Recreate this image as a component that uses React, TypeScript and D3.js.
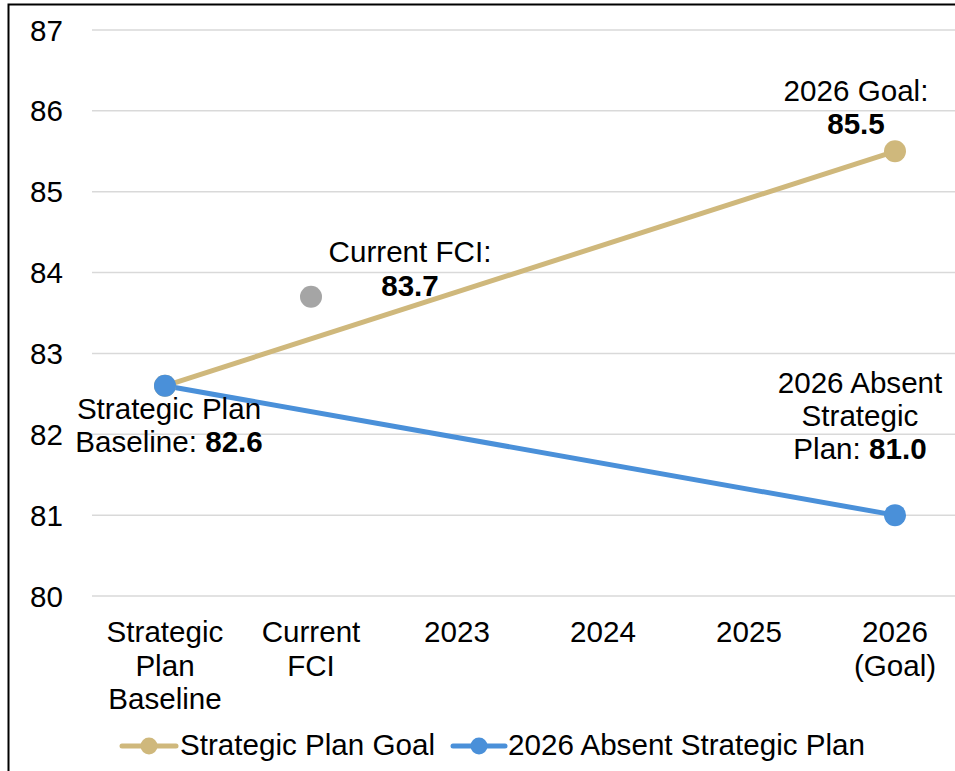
import React from "react";
import * as d3 from "d3";

const categories = ["Strategic Plan Baseline", "Current FCI", "2023", "2024", "2025", "2026 (Goal)"];
const categoryLines = [["Strategic", "Plan", "Baseline"], ["Current", "FCI"], ["2023"], ["2024"], ["2025"], ["2026", "(Goal)"]];
const goalValues: (number | null)[] = [82.6, null, null, null, null, 85.5];
const absentValues: (number | null)[] = [82.6, null, null, null, null, 81.0];
const currentFci: (number | null)[] = [null, 83.7, null, null, null, null];
const yTicks = [80, 81, 82, 83, 84, 85, 86, 87];
const seriesNames = ["Strategic Plan Goal", "2026 Absent Strategic Plan"];

const GOLD = "#CFB87C";
const BLUE = "#4A90D9";
const GRAY = "#A5A5A5";
const FONT = "'Liberation Sans', Arial, Helvetica, sans-serif";

export default function App() {
  const W = 955, H = 771;
  const x = d3.scaleBand<string>().domain(categories).range([92, 968]);
  const cx = (c: string) => (x(c) as number) + x.bandwidth() / 2;
  const y = d3.scaleLinear().domain([80, 87]).range([596, 30]);

  const pts = (vals: (number | null)[]) =>
    vals.map((v, i) => ({ c: categories[i], v })).filter((d) => d.v != null) as { c: string; v: number }[];
  const line = d3.line<{ c: string; v: number }>().x((d) => cx(d.c)).y((d) => y(d.v));

  const goal = pts(goalValues);
  const absent = pts(absentValues);
  const fci = pts(currentFci);
  const fs = 29.6;

  return (
    <svg width={W} height={H} style={{ position: "absolute", left: 0, top: 0 }} fontFamily={FONT}>
      <rect x={0} y={0} width={W} height={H} fill="#fff" />
      <rect x={8.5} y={4.5} width={W + 20} height={H + 20} fill="none" stroke="#000" strokeWidth={2} />
      {yTicks.map((t) => (
        <g key={t}>
          <line x1={92} x2={968} y1={y(t)} y2={y(t)} stroke="#D9D9D9" strokeWidth={1.5} />
          <text x={63} y={y(t)} textAnchor="end" dominantBaseline="central" fontSize={fs} fill="#000">
            {t}
          </text>
        </g>
      ))}
      {categories.map((c, i) => (
        <text key={c} x={cx(c)} textAnchor="middle" fontSize={fs} fill="#000">
          {categoryLines[i].map((l, j) => (
            <tspan key={j} x={cx(c)} y={642 + j * 33.5}>
              {l}
            </tspan>
          ))}
        </text>
      ))}
      <path d={line(goal) || ""} fill="none" stroke={GOLD} strokeWidth={5} />
      <path d={line(absent) || ""} fill="none" stroke={BLUE} strokeWidth={5} />
      {goal.map((d) => (
        <circle key={"g" + d.c} cx={cx(d.c)} cy={y(d.v)} r={11} fill={GOLD} />
      ))}
      {absent.map((d) => (
        <circle key={"a" + d.c} cx={cx(d.c)} cy={y(d.v)} r={11} fill={BLUE} />
      ))}
      {fci.map((d) => (
        <circle key={"f" + d.c} cx={cx(d.c)} cy={y(d.v)} r={11} fill={GRAY} />
      ))}
      {/* data labels */}
      <text fontSize={fs} textAnchor="middle" fill="#000">
        <tspan x={410} y={262}>Current FCI:</tspan>
        <tspan x={410} y={296} fontWeight="bold">{currentFci[1]!.toFixed(1)}</tspan>
      </text>
      <text fontSize={fs} textAnchor="middle" fill="#000">
        <tspan x={856} y={101}>2026 Goal:</tspan>
        <tspan x={856} y={134} fontWeight="bold">{goalValues[5]!.toFixed(1)}</tspan>
      </text>
      <text fontSize={fs} textAnchor="middle" fill="#000">
        <tspan x={169} y={419}>Strategic Plan</tspan>
        <tspan x={169} y={452}>Baseline: <tspan fontWeight="bold">{goalValues[0]!.toFixed(1)}</tspan></tspan>
      </text>
      <text fontSize={fs} textAnchor="middle" fill="#000">
        <tspan x={860} y={393}>2026 Absent</tspan>
        <tspan x={860} y={426}>Strategic</tspan>
        <tspan x={860} y={459}>Plan: <tspan fontWeight="bold">{absentValues[5]!.toFixed(1)}</tspan></tspan>
      </text>
      {/* legend */}
      <g>
        <line x1={122} x2={176} y1={746} y2={746} stroke={GOLD} strokeWidth={5} strokeLinecap="round" />
        <circle cx={149} cy={746} r={8.5} fill={GOLD} />
        <text x={180} y={755} fontSize={fs} fill="#000">{seriesNames[0]}</text>
        <line x1={453} x2={505} y1={746} y2={746} stroke={BLUE} strokeWidth={5} strokeLinecap="round" />
        <circle cx={479} cy={746} r={8.5} fill={BLUE} />
        <text x={508} y={755} fontSize={fs} fill="#000">{seriesNames[1]}</text>
      </g>
    </svg>
  );
}
